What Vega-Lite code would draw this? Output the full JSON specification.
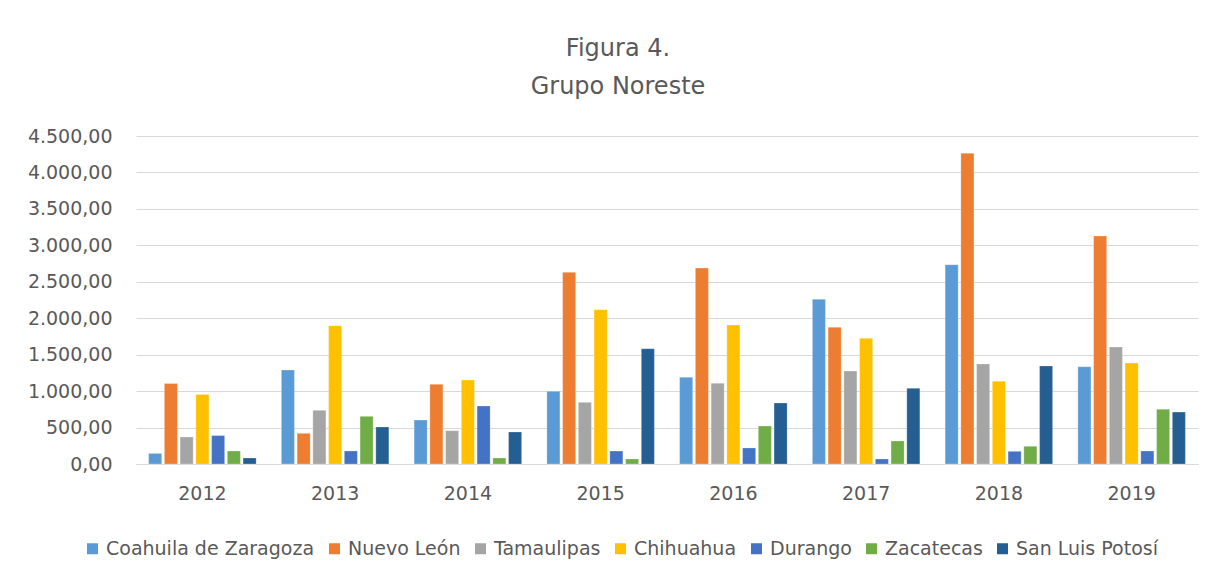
{
  "$schema": "https://vega.github.io/schema/vega-lite/v6.json",
  "autosize": {"type": "none"},
  "width": 1062,
  "height": 328,
  "padding": {"left": 136, "top": 136, "right": 18, "bottom": 117},
  "background": "white",
  "config": {
    "locale": {"number": {"decimal": ",", "thousands": ".", "grouping": [3], "currency": ["", ""]}},
    "view": {"stroke": null},
    "font": "DejaVu Sans"
  },
  "title": {
    "text": ["Figura 4.", "Grupo Noreste"],
    "anchor": "middle",
    "dx": -49,
    "offset": 28,
    "fontSize": 24,
    "fontWeight": "normal",
    "lineHeight": 38,
    "color": "#595959",
    "font": "DejaVu Sans"
  },
  "data": {
    "values": [
      {"year": "2012", "state": "Coahuila de Zaragoza", "value": 145},
      {"year": "2012", "state": "Nuevo León", "value": 1105},
      {"year": "2012", "state": "Tamaulipas", "value": 370},
      {"year": "2012", "state": "Chihuahua", "value": 955},
      {"year": "2012", "state": "Durango", "value": 390},
      {"year": "2012", "state": "Zacatecas", "value": 178},
      {"year": "2012", "state": "San Luis Potosí", "value": 82},
      {"year": "2013", "state": "Coahuila de Zaragoza", "value": 1290},
      {"year": "2013", "state": "Nuevo León", "value": 421},
      {"year": "2013", "state": "Tamaulipas", "value": 737},
      {"year": "2013", "state": "Chihuahua", "value": 1898},
      {"year": "2013", "state": "Durango", "value": 178},
      {"year": "2013", "state": "Zacatecas", "value": 654},
      {"year": "2013", "state": "San Luis Potosí", "value": 508},
      {"year": "2014", "state": "Coahuila de Zaragoza", "value": 604},
      {"year": "2014", "state": "Nuevo León", "value": 1093},
      {"year": "2014", "state": "Tamaulipas", "value": 457},
      {"year": "2014", "state": "Chihuahua", "value": 1152},
      {"year": "2014", "state": "Durango", "value": 796},
      {"year": "2014", "state": "Zacatecas", "value": 82},
      {"year": "2014", "state": "San Luis Potosí", "value": 439},
      {"year": "2015", "state": "Coahuila de Zaragoza", "value": 997},
      {"year": "2015", "state": "Nuevo León", "value": 2630},
      {"year": "2015", "state": "Tamaulipas", "value": 846},
      {"year": "2015", "state": "Chihuahua", "value": 2117},
      {"year": "2015", "state": "Durango", "value": 178},
      {"year": "2015", "state": "Zacatecas", "value": 69},
      {"year": "2015", "state": "San Luis Potosí", "value": 1582},
      {"year": "2016", "state": "Coahuila de Zaragoza", "value": 1189},
      {"year": "2016", "state": "Nuevo León", "value": 2689},
      {"year": "2016", "state": "Tamaulipas", "value": 1107},
      {"year": "2016", "state": "Chihuahua", "value": 1907},
      {"year": "2016", "state": "Durango", "value": 220},
      {"year": "2016", "state": "Zacatecas", "value": 521},
      {"year": "2016", "state": "San Luis Potosí", "value": 837},
      {"year": "2017", "state": "Coahuila de Zaragoza", "value": 2260},
      {"year": "2017", "state": "Nuevo León", "value": 1875},
      {"year": "2017", "state": "Tamaulipas", "value": 1276},
      {"year": "2017", "state": "Chihuahua", "value": 1724},
      {"year": "2017", "state": "Durango", "value": 69},
      {"year": "2017", "state": "Zacatecas", "value": 316},
      {"year": "2017", "state": "San Luis Potosí", "value": 1038},
      {"year": "2018", "state": "Coahuila de Zaragoza", "value": 2735},
      {"year": "2018", "state": "Nuevo León", "value": 4263},
      {"year": "2018", "state": "Tamaulipas", "value": 1372},
      {"year": "2018", "state": "Chihuahua", "value": 1134},
      {"year": "2018", "state": "Durango", "value": 174},
      {"year": "2018", "state": "Zacatecas", "value": 243},
      {"year": "2018", "state": "San Luis Potosí", "value": 1345},
      {"year": "2019", "state": "Coahuila de Zaragoza", "value": 1335},
      {"year": "2019", "state": "Nuevo León", "value": 3128},
      {"year": "2019", "state": "Tamaulipas", "value": 1605},
      {"year": "2019", "state": "Chihuahua", "value": 1386},
      {"year": "2019", "state": "Durango", "value": 178},
      {"year": "2019", "state": "Zacatecas", "value": 750},
      {"year": "2019", "state": "San Luis Potosí", "value": 713}
    ]
  },
  "mark": {"type": "bar", "stroke": "white", "strokeOpacity": 0.35, "strokeWidth": 0.75},
  "encoding": {
    "x": {
      "field": "year",
      "type": "nominal",
      "scale": {"paddingInner": 0.17, "paddingOuter": 0.085},
      "axis": {
        "title": null,
        "labelAngle": 0,
        "ticks": false,
        "domainColor": "#D9D9D9",
        "domainWidth": 1,
        "labelFontSize": 19,
        "labelColor": "#595959",
        "labelPadding": 20,
        "labelFont": "DejaVu Sans"
      }
    },
    "xOffset": {
      "field": "state",
      "type": "nominal",
      "sort": ["Coahuila de Zaragoza", "Nuevo León", "Tamaulipas", "Chihuahua", "Durango", "Zacatecas", "San Luis Potosí"],
      "scale": {"paddingInner": 0.17, "paddingOuter": 0.085}
    },
    "y": {
      "field": "value",
      "type": "quantitative",
      "scale": {"domain": [0, 4500], "nice": false},
      "axis": {
        "title": null,
        "values": [0, 500, 1000, 1500, 2000, 2500, 3000, 3500, 4000, 4500],
        "format": ",.2f",
        "domain": false,
        "ticks": false,
        "gridColor": "#D9D9D9",
        "gridWidth": 1,
        "labelFontSize": 19,
        "labelColor": "#595959",
        "labelPadding": 24,
        "labelFont": "DejaVu Sans"
      }
    },
    "color": {
      "field": "state",
      "type": "nominal",
      "sort": ["Coahuila de Zaragoza", "Nuevo León", "Tamaulipas", "Chihuahua", "Durango", "Zacatecas", "San Luis Potosí"],
      "scale": {
        "domain": ["Coahuila de Zaragoza", "Nuevo León", "Tamaulipas", "Chihuahua", "Durango", "Zacatecas", "San Luis Potosí"],
        "range": ["#5B9BD5", "#ED7D31", "#A5A5A5", "#FFC000", "#4472C4", "#70AD47", "#255E91"]
      },
      "legend": {
        "title": null,
        "orient": "none",
        "direction": "horizontal",
        "legendX": -53,
        "legendY": 403,
        "symbolType": "square",
        "symbolSize": 121,
        "symbolStrokeWidth": 0,
        "labelFontSize": 19,
        "labelColor": "#595959",
        "labelFont": "DejaVu Sans",
        "labelOffset": 4,
        "columnPadding": 10,
        "labelLimit": 400
      }
    }
  }
}
